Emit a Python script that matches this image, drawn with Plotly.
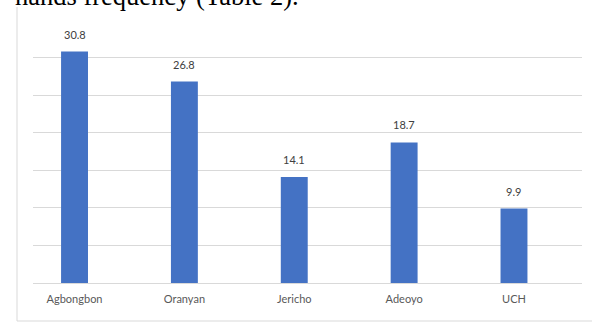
import plotly.graph_objects as go

categories = ["Agbongbon", "Oranyan", "Jericho", "Adeoyo", "UCH"]
values = [30.8, 26.8, 14.1, 18.7, 9.9]
labels = ["30.8", "26.8", "14.1", "18.7", "9.9"]

W, H = 592, 322
L, R, T, B = 33, 10, 20, 39

fig = go.Figure()
fig.add_trace(go.Bar(
    x=categories, y=values, width=0.245,
    marker=dict(color="#4472C4", line=dict(width=0)),
    hoverinfo="skip",
))

for c, v, t in zip(categories, values, labels):
    fig.add_annotation(x=c, y=v, text=t, showarrow=False, yanchor="bottom",
                       yshift=9, font=dict(family="Lato", size=11, color="#404040"))

pw = W - L - R
ph = H - T - B
def px(xp):
    return (xp - L) / pw
def py(yp):
    return (H - B - yp) / ph

# chart frame (partially visible)
fig.add_shape(type="line", xref="paper", yref="paper", x0=px(17), x1=px(17), y0=py(7), y1=py(321),
              line=dict(color="#d9d9d9", width=1))
fig.add_shape(type="line", xref="paper", yref="paper", x0=px(17), x1=px(600), y0=py(321), y1=py(321),
              line=dict(color="#d9d9d9", width=1))

# cut-off caption text above chart
fig.add_annotation(xref="paper", yref="paper", x=px(13), y=py(12.5), xanchor="left", yanchor="bottom",
                   text="hands frequency (Table 2).", showarrow=False,
                   font=dict(family="Liberation Serif", size=26.5, color="#000000"))

fig.update_layout(
    width=W, height=H, margin=dict(l=L, r=R, t=T, b=B),
    paper_bgcolor="white", plot_bgcolor="white", showlegend=False,
    xaxis=dict(range=[-0.378, 4.619], showgrid=False, showline=True, linecolor="#d9d9d9",
               ticks="", tickfont=dict(family="Lato", size=11, color="#595959"),
               ticklabelstandoff=6, zeroline=False),
    yaxis=dict(range=[0, 35], dtick=5, showgrid=True, gridcolor="#d9d9d9", gridwidth=1,
               showticklabels=False, zeroline=False, showline=False, ticks=""),
)
fig.write_html("out.html")
